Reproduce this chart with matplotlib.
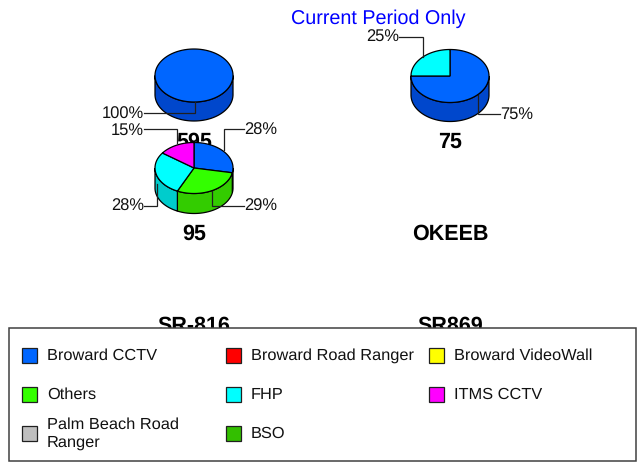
import numpy as np
import matplotlib
matplotlib.use("Agg")
import matplotlib.pyplot as plt
from matplotlib.patches import Polygon, Rectangle

plt.rcParams['font.family'] = ['Liberation Sans', 'DejaVu Sans']
plt.rcParams['text.hinting'] = 'no_hinting'

W, H = 637, 462

# data
series_names = ["Broward CCTV", "Broward Road Ranger", "Broward VideoWall",
                "Others", "FHP", "ITMS CCTV",
                "Palm Beach Road\nRanger", "BSO"]
series_colors = ["#0066FF", "#FF0000", "#FFFF00",
                 "#33FF00", "#00FFFF", "#FF00FF",
                 "#BFBFBF", "#33BF00"]
side_colors = {"#0066FF": "#0047CC", "#33FF00": "#33CC00", "#00FFFF": "#00CCCC",
               "#FF00FF": "#CC00CC"}

pie_titles = ["595", "75", "95", "OKEEB", "SR-816", "SR869"]
values_595 = [100]
colors_595 = ["#0066FF"]
values_75 = [75, 25]
colors_75 = ["#0066FF", "#00FFFF"]
values_95 = [28, 29, 28, 15]
colors_95 = ["#0066FF", "#33FF00", "#00FFFF", "#FF00FF"]

fig = plt.figure(figsize=(W / 100, H / 100), dpi=100)
ax = fig.add_axes([0, 0, 1, 1])
ax.set_xlim(0, W)
ax.set_ylim(H, 0)
ax.axis('off')


def draw_pie(cx, cy, vals, cols, rx=39, ry=26.5, depth=19, z=2):
    total = sum(vals)
    ang = 0
    # side wall first, only the front half of the disc shows
    for v, c in zip(vals, cols):
        a0, a1 = ang, ang + v / total * 360
        ang = a1
        lo, hi = max(a0, 90), min(a1, 270)
        if hi > lo:
            t = np.radians(np.linspace(lo, hi, 80))
            x = cx + rx * np.sin(t)
            y = cy - ry * np.cos(t)
            pts = np.r_[np.c_[x, y], np.c_[x, y + depth][::-1]]
            ax.add_patch(Polygon(pts, closed=True, fc=side_colors[c], ec='black', lw=0.9, zorder=z))
    ang = 0
    for v, c in zip(vals, cols):
        a0, a1 = ang, ang + v / total * 360
        ang = a1
        t = np.radians(np.linspace(a0, a1, 160))
        x = cx + rx * np.sin(t)
        y = cy - ry * np.cos(t)
        if v == total:
            pts = np.c_[x, y]
        else:
            pts = np.r_[[[cx, cy]], np.c_[x, y]]
        ax.add_patch(Polygon(pts, closed=True, fc=c, ec='black', lw=0.9, zorder=z))


def leader(xs, ys, z=4):
    ax.plot(xs, ys, color='#202020', lw=0.9, zorder=z, solid_joinstyle='miter')


def pct(x, y, val, ha):
    ax.text(x, y + 1.5, f"{val}%", fontsize=11.9, ha=ha, va='center', color='#111111', zorder=5)


ax.text(378, 18.5, "Current Period Only", color='#0000FF', fontsize=14.2, ha='center', va='center')

# titles sit under the pies and under the legend box
title_xy = [(194, 142), (450, 142.5), (194, 234), (450, 234), (194, 326), (450, 326)]
for name, (x, y) in zip(pie_titles, title_xy):
    ax.text(x, y, name, fontsize=15.5, fontweight='bold', ha='center', va='center', color='black', zorder=1)

draw_pie(194, 75.5, values_595, colors_595, z=2)
draw_pie(450, 76, values_75, colors_75, z=2)
draw_pie(194, 168, values_95, colors_95, ry=25.5, depth=20, z=3)

leader([195, 195, 144], [102, 113, 113])
pct(144, 113, values_595[0], 'right')

leader([399, 423, 423], [37, 37, 57])
pct(399, 36, values_75[1], 'right')
leader([478, 478, 500], [95, 114, 114])
pct(500, 113, values_75[0], 'left')

leader([144, 177, 177], [129, 129, 143])
pct(144, 129, values_95[3], 'right')
leader([244, 224, 224], [129, 129, 150])
pct(244, 129, values_95[0], 'left')
leader([144, 157, 157], [206, 206, 184])
pct(144, 205, values_95[2], 'right')
leader([244, 212, 212], [206, 206, 191])
pct(244, 205, values_95[1], 'left')

# legend box
ax.add_patch(Rectangle((8.5, 328), 627, 133, fc='white', ec='#404040', lw=1.1, zorder=6))
col_x = [22, 226, 429]
row_y = [355.5, 394.5, 433]
for i, (name, c) in enumerate(zip(series_names, series_colors)):
    x = col_x[i % 3]
    y = row_y[i // 3]
    ax.add_patch(Rectangle((x, y - 7.5), 15, 15, fc=c, ec='#202020', lw=0.9, zorder=7))
    ax.text(x + 25, y + 0.5, name, fontsize=11.8, ha='left', va='center', color='#111111',
            linespacing=1.2, zorder=7)

fig.savefig("out.png", dpi=100)
